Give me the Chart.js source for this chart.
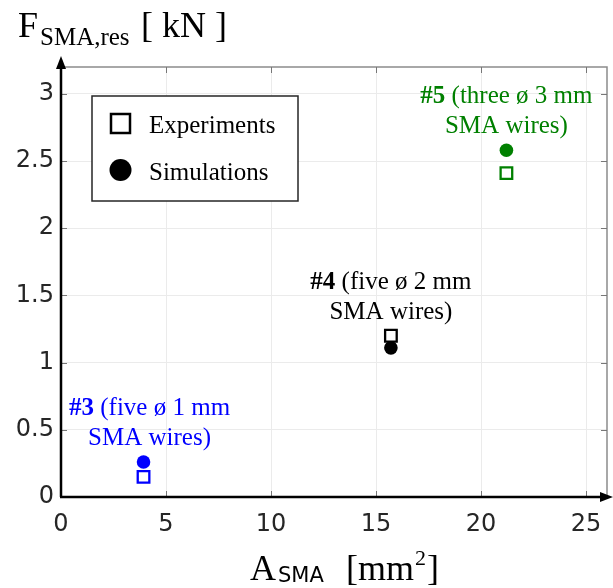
<!DOCTYPE html>
<html>
<head>
<meta charset="utf-8">
<script src="https://cdn.jsdelivr.net/npm/chart.js@4.4.0/dist/chart.umd.min.js"></script>
<style>
  body { margin: 0; background: #fff; }
  #wrap { width: 613px; height: 588px; }
</style>
</head>
<body>
<div id="wrap"><canvas id="myChart" width="613" height="588"></canvas></div>
<script>
// cross-section of the SMA wire bundles [mm2] and resulting force [kN]
const areaSMA = [3.93, 15.71, 21.21];
const forceExperiments = [0.15, 1.20, 2.41];
const forceSimulations = [0.26, 1.11, 2.58];
const caseNames = ['#3', '#4', '#5'];
const caseText = [
  [' (five ø 1 mm', 'SMA wires)'],
  [' (five ø 2 mm', 'SMA wires)'],
  [' (three ø 3 mm', 'SMA wires)']
];
const caseColors = ['#0000ff', '#000000', '#008000'];
const xTicks = [0, 5, 10, 15, 20, 25];
const yTicks = [0, 0.5, 1, 1.5, 2, 2.5, 3];

const SERIF = '"Liberation Serif", "Times New Roman", serif';
const SANS = '"DejaVu Sans", Arial, sans-serif';

function puntos(valores) {
  return areaSMA.map((a, i) => ({ x: a, y: valores[i] }));
}

// axes with arrows, frame, inner ticks, legend box, labels
const adornos = {
  id: 'adornos',
  afterDatasetsDraw(chart) {
    const ctx = chart.ctx;
    const a = chart.chartArea;
    const sx = chart.scales.x, sy = chart.scales.y;
    ctx.save();

    // frame top/right
    ctx.strokeStyle = '#8c8c8c';
    ctx.lineWidth = 1.5;
    ctx.beginPath();
    ctx.moveTo(a.left, a.top); ctx.lineTo(a.right, a.top); ctx.lineTo(a.right, a.bottom);
    ctx.stroke();

    // inner ticks
    ctx.strokeStyle = '#777';
    ctx.lineWidth = 1;
    ctx.beginPath();
    xTicks.forEach(v => {
      const px = Math.round(sx.getPixelForValue(v)) + 0.5;
      ctx.moveTo(px, a.bottom); ctx.lineTo(px, a.bottom - 6);
      ctx.moveTo(px, a.top); ctx.lineTo(px, a.top + 6);
    });
    yTicks.forEach(v => {
      const py = Math.round(sy.getPixelForValue(v)) + 0.5;
      ctx.moveTo(a.left, py); ctx.lineTo(a.left + 6, py);
      ctx.moveTo(a.right, py); ctx.lineTo(a.right - 6, py);
    });
    ctx.stroke();

    // black axes with arrow heads
    ctx.strokeStyle = '#000';
    ctx.fillStyle = '#000';
    ctx.lineWidth = 2.5;
    ctx.beginPath();
    ctx.moveTo(a.left, a.bottom); ctx.lineTo(a.left, 64);
    ctx.moveTo(a.left - 1, a.bottom); ctx.lineTo(606, a.bottom);
    ctx.stroke();
    ctx.beginPath();
    ctx.moveTo(a.left, 56); ctx.lineTo(a.left - 5, 69); ctx.lineTo(a.left + 5, 69);
    ctx.closePath(); ctx.fill();
    ctx.beginPath();
    ctx.moveTo(613, a.bottom); ctx.lineTo(600, a.bottom - 5); ctx.lineTo(600, a.bottom + 5);
    ctx.closePath(); ctx.fill();

    // legend
    ctx.fillStyle = '#fff';
    ctx.fillRect(92, 96, 206, 105);
    ctx.strokeStyle = '#262626';
    ctx.lineWidth = 1.5;
    ctx.strokeRect(92, 96, 206, 105);
    ctx.strokeStyle = '#000';
    ctx.lineWidth = 2.5;
    ctx.strokeRect(111, 114, 19, 19);
    ctx.fillStyle = '#000';
    ctx.beginPath(); ctx.arc(120.5, 170, 11, 0, Math.PI * 2); ctx.fill();
    ctx.font = '25px ' + SERIF;
    ctx.textBaseline = 'alphabetic';
    ctx.textAlign = 'left';
    ctx.fillText('Experiments', 149, 133);
    ctx.fillText('Simulations', 149, 180);

    // case labels above each pair of markers
    areaSMA.forEach((v, i) => {
      const cx = sx.getPixelForValue(v) + (i === 0 ? 6 : 0);
      const topY = sy.getPixelForValue(Math.max(forceExperiments[i], forceSimulations[i]));
      const base2 = topY - 17;
      const base1 = base2 - 30;
      ctx.fillStyle = caseColors[i];
      ctx.font = 'bold 25px ' + SERIF;
      const w0 = ctx.measureText(caseNames[i]).width;
      ctx.font = '25px ' + SERIF;
      const w1 = ctx.measureText(caseText[i][0]).width;
      let x0 = cx - (w0 + w1) / 2;
      ctx.textAlign = 'left';
      ctx.font = 'bold 25px ' + SERIF;
      ctx.fillText(caseNames[i], x0, base1);
      ctx.font = '25px ' + SERIF;
      ctx.fillText(caseText[i][0], x0 + w0, base1);
      ctx.textAlign = 'center';
      ctx.fillText(caseText[i][1], cx, base2);
    });

    // y axis title
    ctx.fillStyle = '#000';
    ctx.textAlign = 'left';
    ctx.font = '36px ' + SERIF;
    ctx.fillText('F', 18, 37);
    ctx.font = '25px ' + SERIF;
    ctx.fillText('SMA,res', 40, 45);
    ctx.font = '36px ' + SERIF;
    ctx.fillText('[ kN ]', 141, 37);

    // x axis title
    ctx.font = '36px ' + SERIF;
    ctx.fillText('A', 250, 580);
    ctx.font = '21px "DejaVu Sans", sans-serif';
    ctx.fillText('SMA', 278, 582);
    ctx.font = '36px ' + SERIF;
    ctx.fillText('[mm', 346, 580);
    let wx = 346 + ctx.measureText('[mm').width;
    ctx.font = '22px ' + SERIF;
    ctx.fillText('2', wx + 1, 565);
    ctx.font = '36px ' + SERIF;
    ctx.fillText(']', wx + 13, 580);

    ctx.restore();
  }
};

const data = {
  datasets: [
    {
      label: 'Experiments',
      data: puntos(forceExperiments),
      pointStyle: 'rect',
      pointRadius: 8.2,
      pointBorderWidth: 2.3,
      borderColor: caseColors,
      backgroundColor: '#fff',
      order: 1
    },
    {
      label: 'Simulations',
      data: puntos(forceSimulations),
      pointStyle: 'circle',
      pointRadius: 6.8,
      pointBorderWidth: 0,
      borderColor: caseColors,
      backgroundColor: caseColors,
      order: 2
    }
  ]
};

const config = {
  type: 'scatter',
  data: data,
  options: {
    responsive: false,
    animation: false,
    layout: { autoPadding: false, padding: { top: 67, right: 6, left: 0, bottom: 0 } },
    plugins: { legend: { display: false }, tooltip: { enabled: false } },
    scales: {
      x: {
        min: 0, max: 26,
        afterFit: s => { s.height = 91; s.paddingLeft = 0; s.paddingRight = 0; },
        afterBuildTicks: s => { s.ticks = xTicks.map(v => ({ value: v })); },
        grid: { color: '#ebebeb', lineWidth: 1, drawTicks: false },
        border: { display: false },
        ticks: { padding: 13, color: '#262626', font: { family: SANS, size: 24 } }
      },
      y: {
        min: 0, max: 3.2,
        afterFit: s => { s.width = 61; s.paddingTop = 0; s.paddingBottom = 0; },
        afterBuildTicks: s => { s.ticks = yTicks.map(v => ({ value: v })); },
        grid: { color: '#ebebeb', lineWidth: 1, drawTicks: false },
        border: { display: false },
        ticks: { padding: 7, color: '#262626', font: { family: SANS, size: 24 },
                 callback: v => String(v) }
      }
    }
  },
  plugins: [adornos]
};

const myChart = new Chart(document.getElementById('myChart'), config);
</script>
</body>
</html>
